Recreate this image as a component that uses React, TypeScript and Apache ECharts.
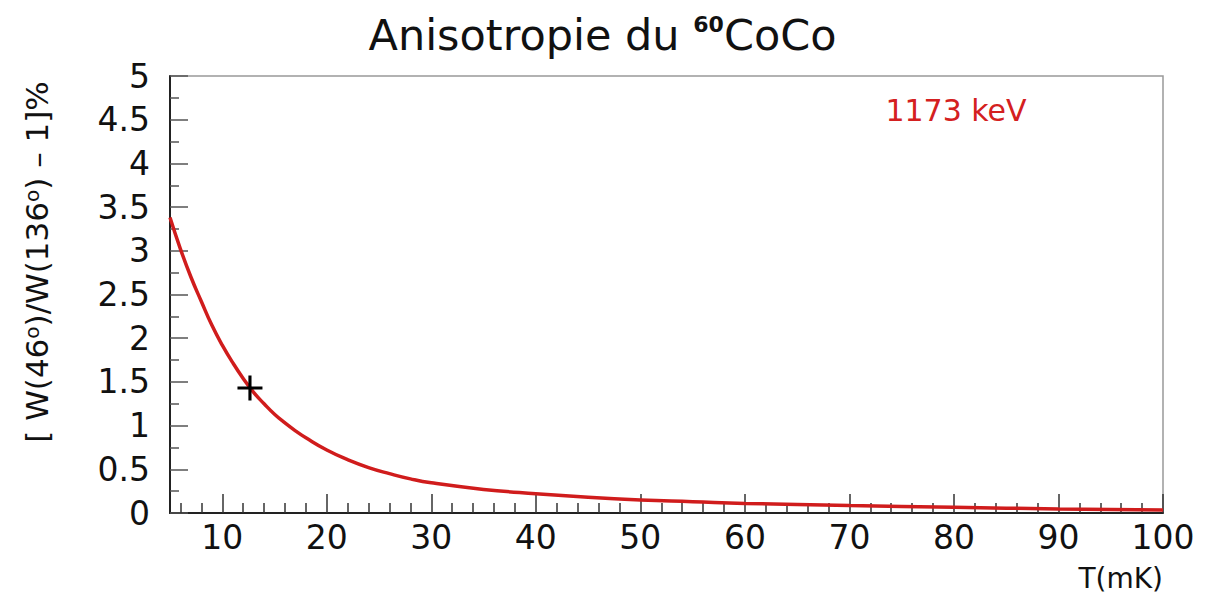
import React, { useEffect, useRef } from 'react';
import * as echarts from 'echarts';

// Temperature (mK) and anisotropy [W(46°)/W(136°) - 1] %
const temperatures = [5, 6, 7, 8, 9, 10, 11, 12, 13, 14, 15, 16, 17, 18, 20, 22, 24, 26, 28, 30, 35, 40, 45, 50, 55, 60, 70, 80, 90, 100];
const anisotropy = [3.38, 3.02, 2.7, 2.42, 2.15, 1.92, 1.72, 1.54, 1.38, 1.25, 1.13, 1.03, 0.94, 0.86, 0.72, 0.61, 0.52, 0.45, 0.39, 0.345, 0.27, 0.22, 0.18, 0.15, 0.13, 0.11, 0.085, 0.065, 0.047, 0.035];
const measuredPoint = [12.65, 1.43];

const xMajorTicks = [10, 20, 30, 40, 50, 60, 70, 80, 90, 100];
const xMinorTicks = [6, 8, 12, 14, 16, 18, 22, 24, 26, 28, 32, 34, 36, 38, 42, 44, 46, 48, 52, 54, 56, 58, 62, 64, 66, 68, 72, 74, 76, 78, 82, 84, 86, 88, 92, 94, 96, 98];

const titleText = '{a|Anisotropie du }{s|60}{a|CoCo}';
const yTitleText = '[ W(46{s|o})/W(136{s|o}) – 1]%';
const energyLabel = '1173 keV';
const xTitleText = 'T(mK)';

const FONT = 'DejaVu Sans';

export default function App() {
  const ref = useRef<HTMLDivElement>(null);
  useEffect(() => {
    if (!ref.current) return;
    const chart = echarts.init(ref.current, undefined, { renderer: 'svg' });
    const gridPos = { left: 170, right: 42, top: 76, bottom: 81 };
    chart.setOption({
      animation: false,
      backgroundColor: '#ffffff',
      grid: [
        { ...gridPos, show: true, borderColor: '#999', borderWidth: 1.5, backgroundColor: 'transparent' },
        { ...gridPos, show: false },
      ],
      xAxis: [
        {
          type: 'value',
          gridIndex: 0,
          min: 5,
          max: 100,
          axisLine: { show: true, lineStyle: { color: '#222', width: 2 } },
          axisTick: { show: true, inside: true, length: 19, customValues: xMajorTicks, lineStyle: { color: '#333', width: 1.5 } },
          axisLabel: { customValues: xMajorTicks, fontSize: 33, fontFamily: FONT, color: '#111', margin: 8 },
          splitLine: { show: false },
        },
        {
          type: 'value',
          gridIndex: 1,
          min: 5,
          max: 100,
          axisLine: { show: false },
          axisTick: { show: true, inside: true, length: 10, customValues: xMinorTicks, lineStyle: { color: '#333', width: 1.5 } },
          axisLabel: { show: false },
          splitLine: { show: false },
        },
      ],
      yAxis: [
        {
          type: 'value',
          gridIndex: 0,
          min: 0,
          max: 5,
          interval: 0.5,
          axisLine: { show: true, lineStyle: { color: '#222', width: 2 } },
          axisTick: { show: true, inside: true, length: 18, lineStyle: { color: '#555', width: 1.5 } },
          minorTick: { show: true, splitNumber: 2, length: 9, lineStyle: { color: '#555', width: 1.5 } },
          axisLabel: { fontSize: 33, fontFamily: FONT, color: '#111', margin: 20 },
          splitLine: { show: false },
          minorSplitLine: { show: false },
        },
        { type: 'value', gridIndex: 1, min: 0, max: 5, show: false },
      ],
      title: {
        text: titleText,
        left: 'center',
        top: 8,
        textStyle: {
          rich: {
            a: { fontSize: 43, fontFamily: FONT, color: '#111', fontWeight: 'normal' },
            s: { fontSize: 22, fontFamily: FONT, color: '#111', fontWeight: 'bold', verticalAlign: 'top' },
          },
        },
      },
      graphic: [
        {
          type: 'text',
          x: 37,
          y: 262,
          rotation: Math.PI / 2,
          style: {
            text: yTitleText,
            fontSize: 31,
            fontFamily: FONT,
            fill: '#111',
            align: 'center',
            verticalAlign: 'middle',
            rich: {
              s: { fontSize: 20, fontFamily: FONT, fill: '#111', verticalAlign: 'top' },
            },
          },
        },
        {
          type: 'text',
          x: 956,
          y: 110,
          style: { text: energyLabel, fontSize: 30, fontFamily: FONT, fill: '#d42020', align: 'center', verticalAlign: 'middle' },
        },
        {
          type: 'text',
          x: 1163,
          y: 578,
          style: { text: xTitleText, fontSize: 28, fontFamily: FONT, fill: '#111', align: 'right', verticalAlign: 'middle' },
        },
      ],
      series: [
        {
          type: 'line',
          xAxisIndex: 0,
          yAxisIndex: 0,
          data: temperatures.map((t, i) => [t, anisotropy[i]]),
          smooth: true,
          showSymbol: false,
          lineStyle: { color: '#d01c1c', width: 3.5 },
          z: 3,
        },
        {
          type: 'scatter',
          xAxisIndex: 0,
          yAxisIndex: 0,
          data: [measuredPoint],
          symbol: 'path://M10.5,0h3v10.5h10.5v3h-10.5v10.5h-3v-10.5h-10.5v-3h10.5z',
          symbolSize: 25,
          itemStyle: { color: '#000', opacity: 1 },
          z: 4,
        },
      ],
    });
    return () => chart.dispose();
  }, []);
  return (
    <div
      ref={ref}
      style={{ position: 'absolute', left: 0, top: 0, width: 1205, height: 594, background: '#fff' }}
    />
  );
}
